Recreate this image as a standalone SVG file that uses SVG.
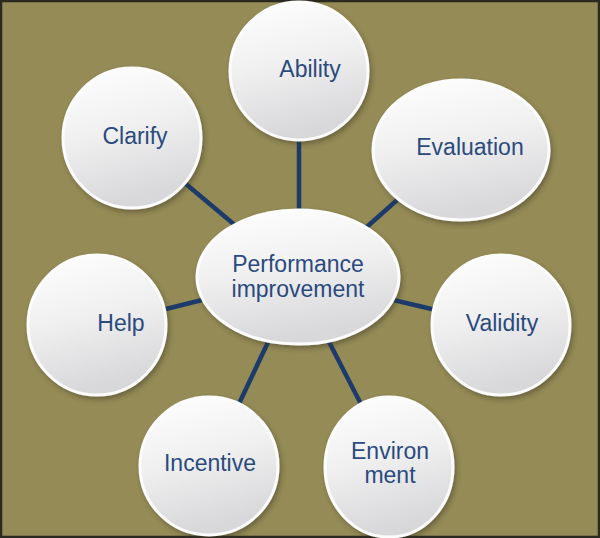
<svg xmlns="http://www.w3.org/2000/svg" width="600" height="538" viewBox="0 0 600 538">
<defs>
<linearGradient id="g" x1="0" y1="0" x2="0.25" y2="1">
<stop offset="0" stop-color="#ffffff"/>
<stop offset="0.5" stop-color="#f0f0f1"/>
<stop offset="1" stop-color="#d8d8da"/>
</linearGradient>
<filter id="sh" x="-20%" y="-20%" width="140%" height="140%">
<feDropShadow dx="2" dy="3" stdDeviation="2.5" flood-color="#3a3620" flood-opacity="0.45"/>
</filter>
<style>
.n{fill:url(#g);stroke:#fcfcfc;stroke-width:3;filter:url(#sh)}
.c line{stroke:#1d3b6a;stroke-width:4.5;stroke-linecap:butt}
text{font-family:"Liberation Sans",Arial,sans-serif;font-size:23px;fill:#2a4a7e;text-anchor:middle}
</style>
</defs>
<rect x="0" y="0" width="600" height="538" fill="#948b56"/>
<rect x="1" y="1" width="598" height="536" fill="none" stroke="#2b2a20" stroke-width="2.5"/>
<g id="connectors" class="c">
<line x1="299" y1="130" x2="299" y2="220"/>
<line x1="180" y1="179" x2="242" y2="231"/>
<line x1="405" y1="193" x2="360" y2="233"/>
<line x1="385" y1="298" x2="440" y2="311"/>
<line x1="158" y1="311" x2="210" y2="298"/>
<line x1="270" y1="338" x2="236" y2="410"/>
<line x1="327" y1="338" x2="364" y2="410"/>
</g>
<g id="ability"><ellipse class="n" cx="299" cy="71" rx="69" ry="69"/><text x="310" y="77">Ability</text></g>
<g id="evaluation"><ellipse class="n" cx="461" cy="150" rx="88" ry="70"/><text x="470" y="155">Evaluation</text></g>
<g id="clarify"><ellipse class="n" cx="132" cy="138" rx="69" ry="70"/><text x="135" y="144">Clarify</text></g>
<g id="validity"><ellipse class="n" cx="501" cy="325" rx="69" ry="70"/><text x="502" y="331">Validity</text></g>
<g id="help"><ellipse class="n" cx="97" cy="325" rx="69" ry="70"/><text x="121" y="331">Help</text></g>
<g id="incentive"><ellipse class="n" cx="209" cy="466" rx="69" ry="69"/><text x="210" y="471">Incentive</text></g>
<g id="environment"><ellipse class="n" cx="389" cy="467" rx="64" ry="70"/><text x="390" y="459">Environ</text><text x="390" y="483">ment</text></g>
<g id="center"><ellipse class="n" cx="298" cy="277" rx="101" ry="67"/><text x="298" y="272">Performance</text><text x="298" y="297">improvement</text></g>
</svg>
